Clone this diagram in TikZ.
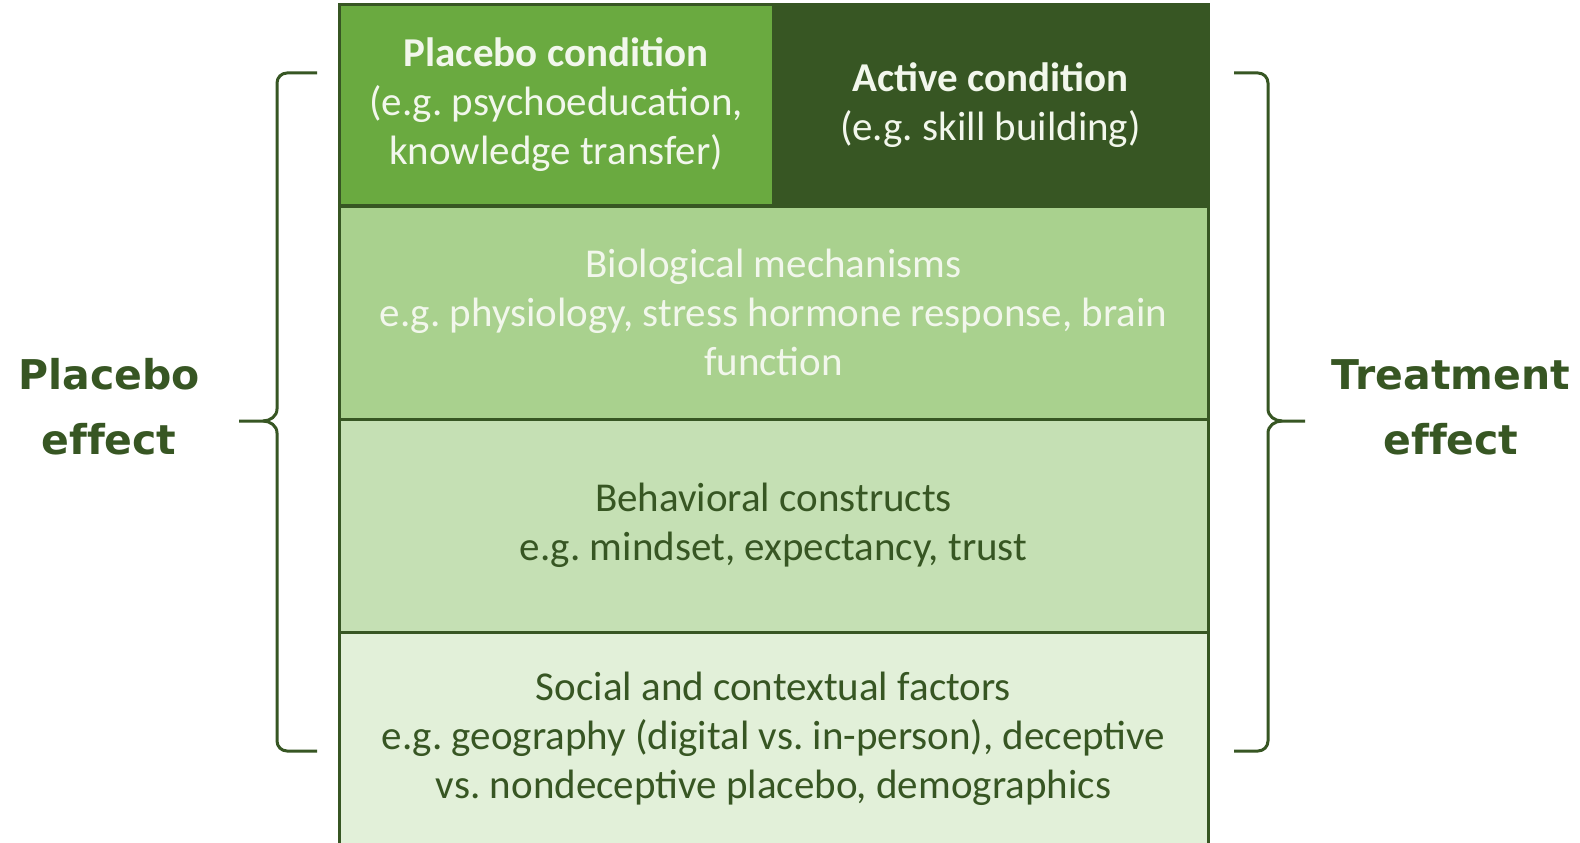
\documentclass[tikz,border=0pt]{standalone}
\usepackage{fontspec}
\setmainfont{Carlito}
\newfontfamily\labfont[Ligatures={NoCommon}]{DejaVu Sans}
\definecolor{gdark}{HTML}{375623}
\definecolor{gmid}{HTML}{6AAA40}
\definecolor{glight1}{HTML}{A9D18E}
\definecolor{glight2}{HTML}{C5E0B4}
\definecolor{glight3}{HTML}{E2F0D9}
\definecolor{txtw}{HTML}{F2F7EC}
\frenchspacing
\tikzset{
  cell/.style={draw=gdark, line width=3pt, rectangle, inner sep=0pt, align=center,
    font=\fontsize{41}{49}\selectfont},
  bigl/.style={text=gdark, align=center, font=\labfont\bfseries\fontsize{41}{65}\selectfont},
  brace/.style={draw=gdark, line width=3pt}
}
\begin{document}
\begin{tikzpicture}[x=1pt,y=-1pt]
\useasboundingbox (0,0) rectangle (1580,843);
\fill[white] (0,0) rectangle (1580,843);
% boxes
\node[cell, fill=gmid, text=txtw, minimum width=434pt, minimum height=200pt] (placebo) at (556,105)
  {\textbf{Placebo condition}\\(e.g. psychoeducation,\\knowledge transfer)};
\node[cell, fill=gdark, text=txtw, minimum width=435pt, minimum height=200pt] (active) at (990.5,105)
  {\textbf{Active condition}\\(e.g. skill building)};
\node[cell, fill=glight1, text=txtw, minimum width=869pt, minimum height=213pt] (bio) at (773.5,312.5)
  {Biological mechanisms\\e.g. physiology, stress hormone response, brain\\function};
\node[cell, fill=glight2, text=gdark, minimum width=869pt, minimum height=213pt] (behav) at (773.5,525.5)
  {Behavioral constructs\\e.g. mindset, expectancy, trust};
\node[cell, fill=glight3, text=gdark, minimum width=869pt, minimum height=214pt] (social) at (773.5,739)
  {Social and contextual factors\\e.g. geography (digital vs. in-person), deceptive\\vs. nondeceptive placebo, demographics};
% labels
\node[bigl] (plab) at (109,407) {Placebo\\effect};
\node[bigl] (tlab) at (1451,407) {Treatment\\effect};
% brace coordinates
\coordinate (ltop) at (317,73);
\coordinate (lbot) at (317,751);
\coordinate (ltip) at (239,421);
\coordinate (rtop) at (1234,73);
\coordinate (rbot) at (1234,751);
\coordinate (rtip) at (1305,421);
% left brace
\draw[brace] (ltop) -- (287,73) to[out=180,in=90] (277,83) -- (277,409)
  to[out=-90,in=0] (263,421) -- (ltip);
\draw[brace] (263,421) to[out=0,in=90] (277,433) -- (277,741)
  to[out=-90,in=180] (287,751) -- (lbot);
% right brace
\draw[brace] (rtop) -- (1258,73) to[out=0,in=90] (1268,83) -- (1268,409)
  to[out=-90,in=180] (1282,421) -- (rtip);
\draw[brace] (1282,421) to[out=180,in=90] (1268,433) -- (1268,741)
  to[out=-90,in=0] (1258,751) -- (rbot);
\end{tikzpicture}
\end{document}
